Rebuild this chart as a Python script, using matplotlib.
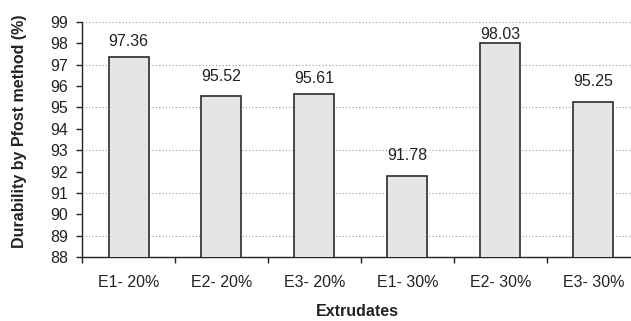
import matplotlib
matplotlib.use('Agg')
import matplotlib.pyplot as plt
import numpy as np

# data
categories = ['E1- 20%', 'E2- 20%', 'E3- 20%', 'E1- 30%', 'E2- 30%', 'E3- 30%']
durability = [97.36, 95.52, 95.61, 91.78, 98.03, 95.25]

# gap (px) between each value label's baseline and its bar top, as placed in the original
label_gap_px = [11, 15, 11.7, 16, 4, 16]

plt.rcParams['font.family'] = ['Liberation Sans', 'DejaVu Sans']
FS = 11.5
INK = '#222222'

fig = plt.figure(figsize=(6.31, 3.21), dpi=100)
# axes runs slightly past the right edge, as in the original figure
ax = fig.add_axes([0.130, 0.199, 0.884, 0.733])

x = np.arange(len(categories))
bars = ax.bar(x, durability, width=0.43, bottom=0, color='#e4e5e7',
              edgecolor='#2b2b2b', linewidth=1.2, zorder=3)

for rect, v, gap in zip(bars, durability, label_gap_px):
    ax.annotate(f'{v:.2f}', (rect.get_x() + rect.get_width() / 2, v),
                xytext=(0, gap * 0.72), textcoords='offset points',
                ha='center', va='baseline', fontsize=FS, color=INK)

ax.set_xlim(-0.5, len(categories) - 0.5)
ax.set_ylim(88, 99)
ax.set_yticks(np.arange(88, 100, 1))
for g in range(89, 100, 2):
    ax.axhline(g, color='#999999', linestyle=(0, (1, 2)), linewidth=0.8, zorder=1)

ax.set_xticks(x)
ax.set_xticklabels(categories, fontsize=FS, color=INK)
ax.set_xticks(np.arange(-0.5, len(categories) + 0.5, 1), minor=True)
ax.tick_params(axis='x', which='major', length=0, pad=13)
ax.tick_params(axis='x', which='minor', length=4, width=1, direction='out', color=INK)
ax.tick_params(axis='y', length=4, width=1, direction='out', color=INK,
               labelsize=FS, labelcolor=INK, pad=6)

for side in ['top', 'right']:
    ax.spines[side].set_visible(False)
for side in ['left', 'bottom']:
    ax.spines[side].set_linewidth(1.0)
    ax.spines[side].set_color(INK)

fig.text(20 / 631, 1 - 131 / 321, 'Durability by Pfost method (%)', rotation=90,
         ha='center', va='center', fontsize=FS, fontweight='bold', color=INK)
fig.text(357.5 / 631, 1 - 312 / 321, 'Extrudates',
         ha='center', va='center', fontsize=FS, fontweight='bold', color=INK)

fig.savefig('out.png', dpi=100)
